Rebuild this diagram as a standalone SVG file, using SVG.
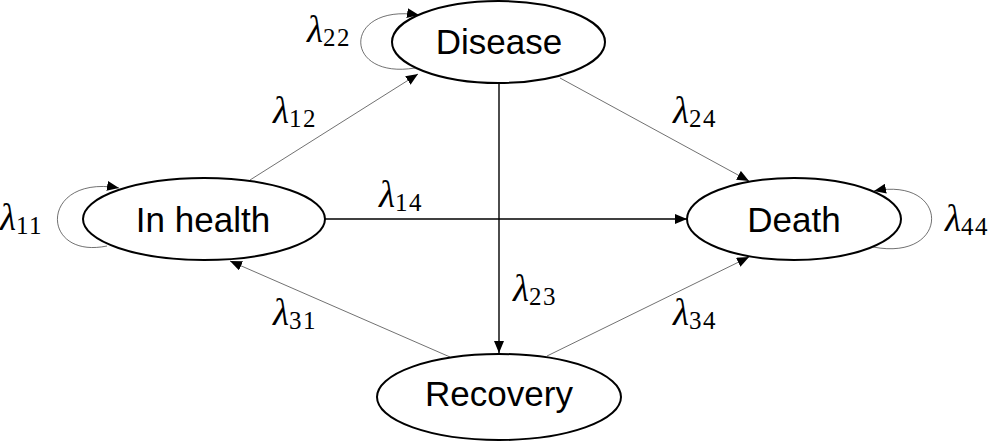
<svg xmlns="http://www.w3.org/2000/svg" width="996" height="442" viewBox="0 0 996 442">
<style>
.node ellipse{fill:#fff;stroke:#000;stroke-width:2}
.node text{font-family:"Liberation Sans","DejaVu Sans",sans-serif;font-size:35px;text-anchor:middle;fill:#000}
.thin{fill:none;stroke:#333;stroke-width:0.7}
.thick{fill:none;stroke:#000;stroke-width:1.4}
.lab{font-family:"Liberation Serif","DejaVu Serif",serif;font-size:37px;font-style:italic;fill:#000}
.lab tspan{font-style:normal;font-size:25px;letter-spacing:1.5px}
</style>
<defs>
<marker id="ah" viewBox="0 0 12 10" refX="12" refY="5" markerWidth="12" markerHeight="10" markerUnits="userSpaceOnUse" orient="auto">
<path d="M0 0 L12 5 L0 10 Z" fill="#000"/>
</marker>
</defs>
<g id="connectors">
<path class="thin" d="M250 180 L418 74" marker-end="url(#ah)"/>
<path class="thin" d="M560 78 L749 181" marker-end="url(#ah)"/>
<path class="thick" d="M499 83 L499 353" marker-end="url(#ah)"/>
<path class="thick" d="M325 219 L687 219" marker-end="url(#ah)"/>
<path class="thin" d="M450 357 L230 261" marker-end="url(#ah)"/>
<path class="thin" d="M547 356 L749 257" marker-end="url(#ah)"/>
<path class="thin" d="M107 246 C39 260 39 174 119 188" marker-end="url(#ah)"/>
<path class="thin" d="M415 68 C342 80 342 3 419 15" marker-end="url(#ah)"/>
<path class="thin" d="M873 247 C951 262 951 176 874 191" marker-end="url(#ah)"/>
</g>
<g id="labels">
<text class="lab" x="0" y="230">λ<tspan dy="4">11</tspan></text>
<text class="lab" x="307" y="42">λ<tspan dy="4">22</tspan></text>
<text class="lab" x="273" y="123">λ<tspan dy="4">12</tspan></text>
<text class="lab" x="379" y="207">λ<tspan dy="4">14</tspan></text>
<text class="lab" x="673" y="123">λ<tspan dy="4">24</tspan></text>
<text class="lab" x="945" y="231">λ<tspan dy="4">44</tspan></text>
<text class="lab" x="513" y="301">λ<tspan dy="4">23</tspan></text>
<text class="lab" x="273" y="325">λ<tspan dy="4">31</tspan></text>
<text class="lab" x="673" y="325">λ<tspan dy="4">34</tspan></text>
</g>
<g id="node-disease" class="node">
<ellipse cx="498.5" cy="42" rx="106.5" ry="41"/>
<text x="499" y="54">Disease</text>
</g>
<g id="node-inhealth" class="node">
<ellipse cx="204" cy="219" rx="121" ry="41"/>
<text x="203" y="232">In health</text>
</g>
<g id="node-death" class="node">
<ellipse cx="794" cy="219" rx="107" ry="41"/>
<text x="794" y="232">Death</text>
</g>
<g id="node-recovery" class="node">
<ellipse cx="499" cy="397" rx="122" ry="43"/>
<text x="499" y="406">Recovery</text>
</g>
</svg>
